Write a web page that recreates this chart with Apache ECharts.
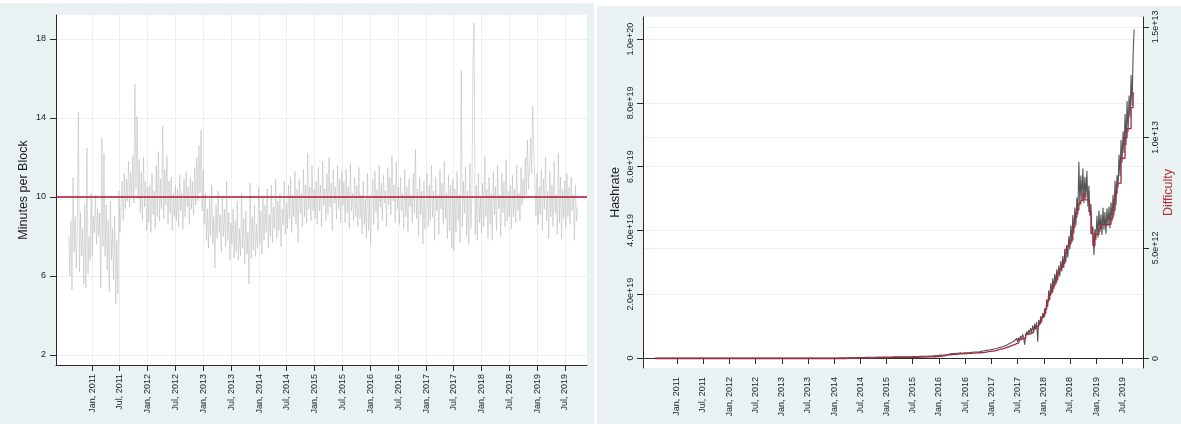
<!DOCTYPE html>
<html>
<head>
<meta charset="utf-8">
<title>Minutes per block, hashrate and difficulty</title>
<script src="https://cdn.jsdelivr.net/npm/echarts@6/dist/echarts.min.js"></script>
<style>
  html, body { margin: 0; padding: 0; background: #fff; }
  #chart { width: 1181px; height: 424px; }
</style>
</head>
<body>
<div id="chart"></div>
<script>
// one sample per week, the first on 1 Aug 2010
const firstWeek = [2010, 7, 1];
const stepDays = 7;

const axisStart = '2010-05-09';
const axisEnd = '2019-11-23';
const tickDates = ['2011-01-01', '2011-07-01', '2012-01-01', '2012-07-01', '2013-01-01', '2013-07-01',
  '2014-01-01', '2014-07-01', '2015-01-01', '2015-07-01', '2016-01-01', '2016-07-01', '2017-01-01',
  '2017-07-01', '2018-01-01', '2018-07-01', '2019-01-01', '2019-07-01'];
const tickLabels = ['Jan, 2011', 'Jul, 2011', 'Jan, 2012', 'Jul, 2012', 'Jan, 2013', 'Jul, 2013',
  'Jan, 2014', 'Jul, 2014', 'Jan, 2015', 'Jul, 2015', 'Jan, 2016', 'Jul, 2016', 'Jan, 2017',
  'Jul, 2017', 'Jan, 2018', 'Jul, 2018', 'Jan, 2019', 'Jul, 2019'];

const minutesTicks = [2, 6, 10, 14, 18];
const targetMinutes = 10;
// hashrate in units of 1e18 H/s, difficulty in units of 1e12
const hashTicks = [0, 20, 40, 60, 80, 100];
const hashTickLabels = ['0', '2.0e+19', '4.0e+19', '6.0e+19', '8.0e+19', '1.0e+20'];
const diffTicks = [0, 5, 10, 15];
const diffTickLabels = ['0', '5.0e+12', '1.0e+13', '1.5e+13'];

const minutesPerBlock = [
  8.0, 6.0, 8.8, 5.3, 11.0, 7.2, 9.0, 6.4, 8.5, 14.3, 6.2, 9.2, 7.0, 8.4, 5.6, 9.6, 5.4, 12.5, 6.1, 8.0, 6.8, 10.2, 7.0,
  9.0, 8.2, 10.1, 7.6, 9.4, 8.0, 9.2, 5.4, 13.0, 7.5, 12.2, 7.0, 9.6, 6.3, 8.8, 5.2, 9.8, 6.8, 8.4, 5.8, 9.0, 4.6, 7.8, 5.1, 10.3, 8.2,
  9.6, 10.8, 8.8, 11.2, 9.4, 10.9, 9.8, 11.8, 9.5, 11.3, 10.0, 12.1, 9.7, 15.7, 10.4, 14.1, 9.9, 11.9, 9.2, 11.3, 8.8, 12.0, 9.5, 10.8, 8.3, 10.5,
  8.7, 10.6, 8.2, 11.2, 9.1, 10.3, 8.4, 11.6, 9.0, 12.3, 8.8, 10.9, 9.4, 13.6, 8.9, 11.4, 9.6, 12.1, 8.6, 10.8, 9.2, 11.0, 8.3, 10.2, 9.0, 10.6,
  8.8, 10.4, 8.5, 11.1, 9.3, 10.2, 8.4, 10.9, 9.0, 11.3, 9.5, 10.5, 8.6, 11.0, 9.4, 10.8, 9.1, 11.5, 9.6, 12.0, 9.8, 12.6, 10.2, 13.4, 9.3, 11.4,
  8.6, 10.2, 7.8, 9.4, 7.4, 9.9, 8.0, 10.6, 7.6, 9.0, 6.4, 9.6, 7.9, 10.3, 8.2, 9.1, 7.2, 10.0, 8.0, 9.4, 7.5, 10.8, 7.8, 9.2, 6.8, 8.7,
  7.6, 9.4, 6.9, 8.8, 7.2, 9.8, 6.8, 8.4, 7.0, 10.2, 7.4, 8.9, 6.6, 9.3, 7.1, 8.2, 5.6, 10.7, 6.9, 9.0, 7.3, 9.6, 7.0, 8.6, 7.4, 10.5,
  7.6, 9.3, 7.1, 10.0, 7.8, 9.6, 8.2, 10.4, 7.4, 9.1, 8.0, 10.6, 7.7, 9.5, 8.4, 10.9, 7.9, 9.8, 8.3, 10.2, 7.5, 9.4, 8.6, 10.8, 8.1, 9.7,
  8.4, 10.6, 8.9, 11.0, 8.2, 10.1, 9.0, 11.3, 8.6, 10.4, 7.7, 10.9, 9.2, 10.2, 8.5, 11.4, 9.0, 10.6, 8.7, 12.2, 9.4, 10.5, 8.8, 11.6, 9.3, 10.4, 8.9,
  10.8, 8.6, 11.5, 9.3, 10.6, 8.5, 11.8, 9.6, 10.4, 8.8, 11.2, 9.1, 12.0, 9.5, 10.7, 8.3, 11.4, 9.7, 10.5, 8.9, 11.6, 9.4, 10.9, 8.7, 11.3, 9.6,
  10.8, 8.7, 11.4, 9.2, 10.5, 8.4, 11.7, 9.3, 10.2, 8.8, 11.0, 9.0, 10.6, 8.5, 11.5, 8.9, 10.1, 8.1, 10.8, 8.6, 9.9, 7.9, 11.2, 8.3, 10.0, 7.6,
  9.4, 10.9, 8.6, 11.3, 9.2, 10.4, 8.3, 11.6, 9.5, 10.7, 8.8, 11.1, 9.7, 10.3, 8.5, 11.5, 9.6, 11.0, 9.1, 12.1, 9.8, 10.6, 8.7, 11.8, 9.4, 10.5,
  8.6, 11.0, 9.3, 10.2, 8.4, 11.4, 9.0, 10.5, 8.2, 10.9, 9.5, 10.1, 8.7, 11.2, 9.2, 12.4, 8.9, 10.4, 8.0, 11.0, 9.1, 10.3, 7.6, 10.8, 8.4, 9.9,
  11.2, 8.5, 10.6, 8.8, 11.6, 9.0, 10.3, 7.8, 11.0, 9.3, 10.1, 8.1, 11.4, 9.4, 10.7, 8.6, 11.8, 8.9, 10.2, 7.9, 11.1, 8.3, 10.6, 7.4, 10.9, 7.3,
  10.4, 8.2, 11.3, 8.8, 10.1, 7.7, 16.4, 8.5, 10.8, 9.2, 11.5, 8.0, 10.3, 7.6, 11.7, 8.4, 10.2, 17.0, 18.8, 8.1, 10.6, 7.8, 11.2, 8.7, 10.0, 8.2,
  10.7, 8.5, 12.1, 9.0, 10.4, 7.9, 11.0, 8.6, 10.2, 7.8, 11.3, 9.1, 10.5, 8.3, 11.6, 9.4, 10.1, 8.0, 11.2, 9.2, 10.8, 8.5, 11.9, 8.8, 10.3, 9.0,
  10.6, 8.4, 11.1, 9.0, 10.4, 8.7, 11.6, 9.3, 10.2, 8.8, 11.5, 9.6, 10.9, 9.9, 12.0, 10.1, 12.9, 10.4, 11.5, 13.0, 11.2, 14.6, 12.3, 10.8, 9.0, 11.2,
  8.6, 10.5, 9.1, 11.4, 8.3, 10.9, 9.4, 12.0, 8.8, 10.3, 7.9, 11.3, 9.0, 10.6, 8.5, 11.8, 9.2, 10.1, 8.1, 12.2, 8.7, 11.0, 7.9, 10.4, 8.9, 10.8,
  8.4, 11.2, 9.0, 10.5, 8.6, 11.0, 9.3, 10.1, 7.8, 10.6, 8.8, 9.5
];

const hashrate = [
  0, 0, 0, 0, 0, 0, 0, 0, 0, 0, 0, 0, 0, 0, 0, 0, 0, 0, 0, 0, 0, 0, 0,
  0, 0, 0, 0, 0, 0, 0, 0, 0, 0, 0, 0, 0, 0, 0, 0, 0, 0, 0, 0, 0, 0, 0, 0, 0, 0,
  0, 0, 0, 0, 0, 0, 0, 0, 0, 0, 0, 0, 0, 0, 0, 0, 0, 0, 0, 0, 0, 0, 0, 0, 0, 0,
  0, 0, 0, 0, 0, 0, 0, 0, 0, 0, 0, 0, 0, 0, 0, 0, 0, 0, 0, 0, 0, 0, 0, 0, 0, 0,
  0, 0, 0, 0, 0, 0, 0, 0, 0, 0, 0, 0, 0, 0, 0, 0, 0, 0, 0, 0, 0, 0, 0, 0, 0, 0,
  0, 0, 0, 0, 0, 0, 0, 0, 0, 0, 0, 0, 0, 0, 0, 0, 0, 0, 0, 0, 0, 0, 0, 0, 0, 0,
  0, 0, 0, 0, 0, 0, 0, 0, 0, 0, 0, 0, 0, 0, 0, 0, 0, 0, 0, 0, 0, 0, 0, 0, 0, 0.01,
  0.01, 0.01, 0.02, 0.02, 0.02, 0.03, 0.03, 0.03, 0.04, 0.04, 0.05, 0.05, 0.06, 0.06, 0.07, 0.08, 0.08, 0.09, 0.10, 0.10, 0.11, 0.12, 0.13, 0.13, 0.14, 0.15,
  0.15, 0.16, 0.17, 0.17, 0.18, 0.19, 0.19, 0.20, 0.21, 0.22, 0.23, 0.24, 0.25, 0.25, 0.26, 0.26, 0.27, 0.27, 0.28, 0.28, 0.28, 0.29, 0.29, 0.29, 0.30, 0.30, 0.31,
  0.32, 0.33, 0.33, 0.34, 0.34, 0.35, 0.35, 0.36, 0.36, 0.36, 0.37, 0.37, 0.37, 0.38, 0.38, 0.38, 0.39, 0.39, 0.40, 0.40, 0.41, 0.41, 0.42, 0.42, 0.43, 0.43,
  0.44, 0.45, 0.46, 0.47, 0.48, 0.49, 0.50, 0.51, 0.52, 0.53, 0.54, 0.55, 0.57, 0.58, 0.60, 0.61, 0.63, 0.64, 0.66, 0.68, 0.70, 0.72, 0.74, 0.76, 0.78, 0.80,
  0.9, 0.8, 0.9, 1.0, 0.9, 1.1, 1.0, 1.2, 1.1, 1.2, 1.3, 1.2, 1.4, 1.3, 1.4, 1.3, 1.5, 1.4, 1.5, 1.4, 1.6, 1.5, 1.5, 1.4, 1.6, 1.5,
  1.6, 1.7, 1.6, 1.8, 1.7, 1.7, 1.8, 1.7, 1.9, 1.8, 1.9, 2.0, 1.9, 2.1, 2.0, 2.1, 2.2, 2.1, 2.3, 2.2, 2.4, 2.3, 2.5, 2.4, 2.6, 2.5,
  2.7, 2.5, 2.9, 2.7, 3.0, 2.8, 3.2, 3.0, 3.4, 3.1, 3.5, 3.3, 3.8, 3.4, 4.0, 3.7, 4.4, 3.9, 4.7, 4.2, 5.0, 4.5, 5.4, 4.8, 6.2, 5.1,
  6.4, 5.6, 6.9, 6.1, 7.4, 6.5, 4.2, 6.8, 8.3, 7.2, 8.8, 7.6, 9.4, 7.9, 10.2, 8.4, 10.8, 9.0, 11.3, 5.1, 11.9, 10.4, 13.0, 11.2, 14.1, 12.6,
  15.6, 13.8, 18.4, 16.0, 21.2, 18.1, 23.4, 20.2, 25.0, 21.6, 26.3, 23.0, 27.8, 24.4, 29.0, 25.6, 30.4, 27.1, 32.0, 28.2, 33.6, 30.0, 35.4, 31.5, 38.2, 34.0,
  41.5, 36.2, 44.8, 39.0, 47.2, 41.6, 50.3, 44.9, 61.5, 47.8, 57.2, 49.5, 59.4, 48.6, 56.8, 50.2, 58.6, 47.5, 54.0, 44.6, 48.3, 38.9, 41.2, 32.3, 40.4, 37.0,
  44.6, 37.8, 46.2, 39.5, 45.0, 38.6, 47.1, 40.2, 45.8, 39.0, 46.9, 41.3, 47.5, 40.6, 48.8, 42.9, 51.2, 44.7, 55.6, 47.9, 57.3, 53.4, 63.8, 57.0, 68.4, 61.2,
  71.0, 64.3, 76.5, 66.8, 80.6, 70.9, 82.3, 75.4, 88.7, 79.1, 95.0, 103.0
];

const difficulty = [
  0, 0, 0, 0, 0, 0, 0, 0, 0, 0, 0, 0, 0, 0, 0, 0, 0, 0, 0, 0, 0, 0, 0,
  0, 0, 0, 0, 0, 0, 0, 0, 0, 0, 0, 0, 0, 0, 0, 0, 0, 0, 0, 0, 0, 0, 0, 0, 0, 0,
  0, 0, 0, 0, 0, 0, 0, 0, 0, 0, 0, 0, 0, 0, 0, 0, 0, 0, 0, 0, 0, 0, 0, 0, 0, 0,
  0, 0, 0, 0, 0, 0, 0, 0, 0, 0, 0, 0, 0, 0, 0, 0, 0, 0, 0, 0, 0, 0, 0, 0, 0, 0,
  0, 0, 0, 0, 0, 0, 0, 0, 0, 0, 0, 0, 0, 0, 0, 0, 0, 0, 0, 0, 0, 0, 0, 0, 0, 0,
  0, 0, 0, 0, 0, 0, 0, 0, 0, 0, 0, 0, 0, 0, 0, 0, 0, 0, 0, 0, 0, 0, 0, 0, 0, 0,
  0, 0, 0, 0, 0, 0, 0, 0, 0, 0, 0, 0, 0, 0, 0, 0, 0, 0, 0, 0, 0, 0, 0, 0, 0, 0,
  0, 0, 0, 0, 0, 0, 0, 0, 0, 0, 0, 0, 0.01, 0.01, 0.01, 0.01, 0.01, 0.01, 0.01, 0.01, 0.01, 0.01, 0.01, 0.01, 0.01, 0.01,
  0.02, 0.02, 0.02, 0.02, 0.02, 0.02, 0.02, 0.02, 0.02, 0.02, 0.02, 0.03, 0.03, 0.03, 0.03, 0.03, 0.03, 0.03, 0.03, 0.03, 0.04, 0.04, 0.04, 0.04, 0.04, 0.04, 0.04,
  0.04, 0.04, 0.04, 0.04, 0.04, 0.05, 0.05, 0.05, 0.05, 0.05, 0.05, 0.05, 0.05, 0.05, 0.05, 0.05, 0.05, 0.05, 0.05, 0.05, 0.05, 0.05, 0.05, 0.05, 0.05, 0.05,
  0.05, 0.05, 0.05, 0.05, 0.05, 0.06, 0.06, 0.06, 0.06, 0.06, 0.06, 0.06, 0.06, 0.07, 0.07, 0.07, 0.07, 0.07, 0.07, 0.08, 0.08, 0.08, 0.08, 0.09, 0.09, 0.10,
  0.10, 0.11, 0.11, 0.12, 0.12, 0.14, 0.14, 0.16, 0.16, 0.17, 0.17, 0.18, 0.18, 0.19, 0.19, 0.19, 0.19, 0.20, 0.20, 0.21, 0.21, 0.21, 0.21, 0.21, 0.21, 0.22,
  0.22, 0.23, 0.23, 0.23, 0.23, 0.24, 0.24, 0.24, 0.24, 0.25, 0.25, 0.25, 0.25, 0.26, 0.26, 0.27, 0.27, 0.28, 0.28, 0.29, 0.29, 0.31, 0.31, 0.32, 0.32, 0.33,
  0.34, 0.34, 0.37, 0.37, 0.39, 0.39, 0.42, 0.42, 0.44, 0.44, 0.46, 0.46, 0.50, 0.50, 0.52, 0.52, 0.56, 0.56, 0.60, 0.60, 0.63, 0.63, 0.67, 0.67, 0.71, 0.71,
  0.71, 0.86, 0.86, 0.92, 0.92, 0.92, 0.92, 1.10, 1.10, 1.10, 1.10, 1.12, 1.12, 1.20, 1.20, 1.35, 1.35, 1.35, 1.45, 1.45, 1.59, 1.59, 1.87, 1.87, 1.93, 1.93,
  2.23, 2.23, 2.60, 2.60, 2.87, 2.87, 3.01, 3.01, 3.29, 3.29, 3.46, 3.46, 3.84, 3.84, 4.03, 4.03, 4.14, 4.14, 4.31, 4.31, 4.94, 4.94, 5.08, 5.08, 5.18, 5.18,
  5.36, 5.36, 5.95, 5.95, 6.39, 6.39, 6.73, 6.73, 7.02, 7.02, 7.15, 7.15, 7.45, 7.45, 7.18, 7.18, 7.18, 7.18, 6.65, 6.65, 5.65, 5.65, 5.11, 5.11, 5.62, 5.62,
  5.62, 5.62, 5.88, 5.88, 6.07, 6.07, 6.07, 6.07, 6.07, 6.07, 6.07, 6.07, 6.07, 6.07, 6.35, 6.35, 6.70, 6.70, 7.46, 7.46, 7.93, 7.93, 7.93, 7.93, 9.06, 9.06,
  9.06, 9.06, 9.99, 9.99, 10.40, 10.40, 10.40, 10.40, 11.35, 11.35, 12.00, 12.00
];

const fontFamily = "'Liberation Sans', Arial, sans-serif";
const panelColor = '#eaf1f3';
const gridColor = '#e9f0f2';
const axisColor = '#2b2b2b';
const textColor = '#1e1e1e';

function weekTime(i) {
  return +new Date(firstWeek[0], firstWeek[1], firstWeek[2] + i * stepDays);
}
function toPairs(values) {
  return values.map((v, i) => [weekTime(i), v]);
}
function parseDay(s) {
  const p = s.split('-').map(Number);
  return +new Date(p[0], p[1] - 1, p[2]);
}

const tickTimes = tickDates.map(parseDay);
const xMin = parseDay(axisStart);
const xMax = parseDay(axisEnd);

function lookup(ticks, labels) {
  return function (v) {
    let best = 0;
    for (let k = 1; k < ticks.length; k++) {
      if (Math.abs(ticks[k] - v) < Math.abs(ticks[best] - v)) best = k;
    }
    return labels[best];
  };
}

// dates are kept as plain millisecond values so the ticks can be placed by hand
function dateAxis(gridIndex, withGrid) {
  return {
    type: 'value',
    gridIndex: gridIndex,
    min: xMin,
    max: xMax,
    axisLine: { show: true, lineStyle: { color: axisColor, width: 1 } },
    axisTick: { show: true, length: 6, customValues: tickTimes, lineStyle: { color: axisColor } },
    axisLabel: {
      customValues: tickTimes,
      rotate: 90,
      margin: 9,
      fontSize: 9,
      color: textColor,
      fontFamily: fontFamily,
      hideOverlap: false,
      formatter: lookup(tickTimes, tickLabels)
    },
    splitLine: { show: withGrid, lineStyle: { color: gridColor, width: 1 } }
  };
}

const chart = echarts.init(document.getElementById('chart'), null, { renderer: 'canvas' });

chart.setOption({
  animation: false,
  backgroundColor: '#ffffff',
  graphic: [
    { type: 'rect', z: -10, shape: { x: 0, y: 3, width: 594, height: 421 }, style: { fill: panelColor } },
    { type: 'rect', z: -10, shape: { x: 597, y: 6, width: 584, height: 418 }, style: { fill: panelColor } }
  ],
  grid: [
    { left: 56, top: 15, width: 531, height: 350, show: true, backgroundColor: '#ffffff', borderWidth: 0 },
    { left: 643, top: 17, width: 500, height: 351, show: true, backgroundColor: '#ffffff', borderWidth: 0 }
  ],
  xAxis: [dateAxis(0, true), dateAxis(1, false)],
  yAxis: [
    {
      type: 'value',
      gridIndex: 0,
      min: 1.494,
      max: 19.215,
      name: 'Minutes per Block',
      nameLocation: 'middle',
      nameRotate: 90,
      nameGap: 26,
      nameTextStyle: { fontSize: 12.5, color: textColor, fontFamily: fontFamily },
      axisLine: { show: true, lineStyle: { color: axisColor, width: 1 } },
      axisTick: { show: true, length: 6, customValues: minutesTicks, lineStyle: { color: axisColor } },
      axisLabel: { customValues: minutesTicks, margin: 10, fontSize: 9, color: textColor, fontFamily: fontFamily },
      splitLine: { show: true, lineStyle: { color: gridColor, width: 1 } }
    },
    {
      type: 'value',
      gridIndex: 1,
      position: 'left',
      min: -3.13,
      max: 106.9,
      name: 'Hashrate',
      nameLocation: 'middle',
      nameRotate: 90,
      nameGap: 21,
      nameTextStyle: { fontSize: 12.5, color: textColor, fontFamily: fontFamily },
      axisLine: { show: true, lineStyle: { color: axisColor, width: 1 } },
      axisTick: { show: true, length: 6, customValues: hashTicks, lineStyle: { color: axisColor } },
      axisLabel: {
        customValues: hashTicks, rotate: 90, margin: 8, fontSize: 9, color: textColor, fontFamily: fontFamily,
        formatter: lookup(hashTicks, hashTickLabels)
      },
      splitLine: { show: true, lineStyle: { color: gridColor, width: 1 } }
    },
    {
      type: 'value',
      gridIndex: 1,
      position: 'right',
      min: -0.43,
      max: 15.45,
      name: 'Difficulty',
      nameLocation: 'middle',
      nameRotate: 90,
      nameGap: 19,
      nameTextStyle: { fontSize: 12.5, color: '#b0323f', fontFamily: fontFamily },
      axisLine: { show: true, lineStyle: { color: axisColor, width: 1 } },
      axisTick: { show: true, length: 6, customValues: diffTicks, lineStyle: { color: axisColor } },
      axisLabel: {
        customValues: diffTicks, rotate: 90, margin: 8, fontSize: 9, color: textColor, fontFamily: fontFamily,
        formatter: lookup(diffTicks, diffTickLabels)
      },
      splitLine: { show: true, lineStyle: { color: gridColor, width: 1 } }
    }
  ],
  series: [
    {
      name: 'Minutes per Block',
      type: 'line',
      xAxisIndex: 0,
      yAxisIndex: 0,
      data: toPairs(minutesPerBlock),
      showSymbol: false,
      lineStyle: { color: '#b4b4b4', width: 0.5 },
      markLine: {
        silent: true,
        symbol: 'none',
        label: { show: false },
        lineStyle: { color: '#b3132c', width: 1.5, type: 'solid' },
        data: [{ yAxis: targetMinutes }]
      }
    },
    {
      name: 'Hashrate',
      type: 'line',
      xAxisIndex: 1,
      yAxisIndex: 1,
      data: toPairs(hashrate),
      showSymbol: false,
      lineStyle: { color: '#555555', width: 1.1 }
    },
    {
      name: 'Difficulty',
      type: 'line',
      xAxisIndex: 1,
      yAxisIndex: 2,
      step: 'end',
      data: toPairs(difficulty),
      showSymbol: false,
      lineStyle: { color: '#a8283a', width: 1.3 }
    }
  ]
});
</script>
</body>
</html>
